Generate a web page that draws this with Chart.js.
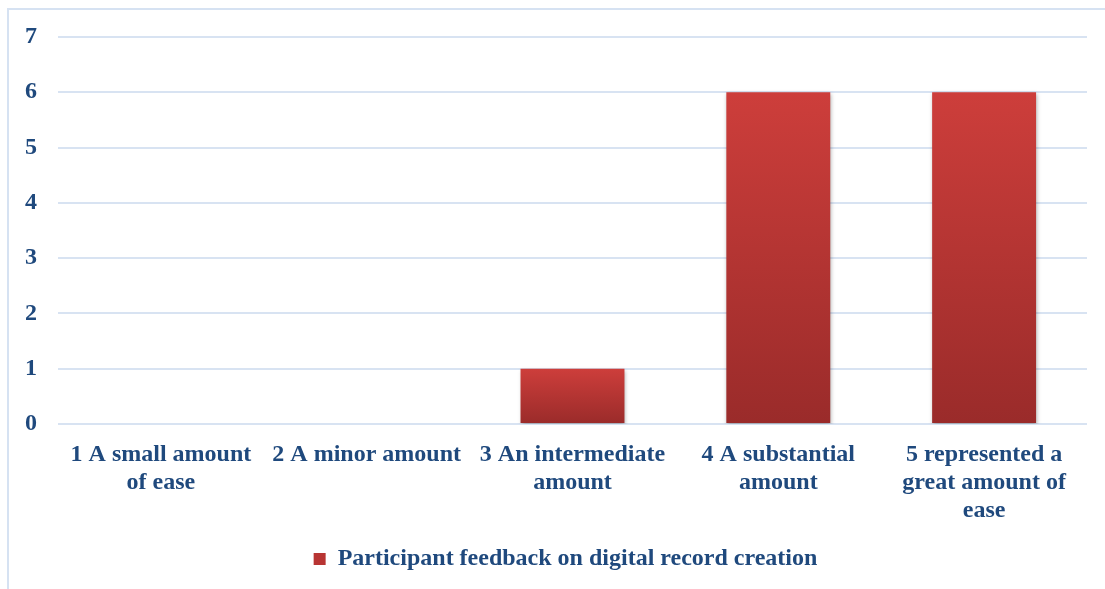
<!DOCTYPE html>
<html>
<head>
<meta charset="utf-8">
<script src="https://cdn.jsdelivr.net/npm/chart.js@4/dist/chart.umd.min.js"></script>
<style>
  body { margin: 0; background: #fff; }
  #wrap { position: relative; width: 1105px; height: 589px; overflow: hidden; }
  #frame { position: absolute; left: 7px; top: 8px; width: 1200px; height: 700px;
           border: 2px solid #D6E2F2; pointer-events: none; }
</style>
</head>
<body>
<div id="wrap">
  <canvas id="chart" width="1105" height="589"></canvas>
  <div id="frame"></div>
</div>
<script>
// Chart data
const categories = [
    ['1 A small amount', 'of ease'],
    ['2 A minor amount'],
    ['3 An intermediate', 'amount'],
    ['4 A substantial', 'amount'],
    ['5 represented a', 'great amount of', 'ease']
];
const seriesLabel = 'Participant feedback on digital record creation';
const feedbackCounts = [0, 0, 1, 6, 6];
const yTicks = [0, 1, 2, 3, 4, 5, 6, 7];

const textColor = '#1F497D';
const fontFamily = '"Liberation Serif", "Times New Roman", serif';

// Per-bar vertical gradient (lighter at the top, darker at the base)
function barGradient(context) {
    const chart = context.chart;
    if (!chart.chartArea || context.type !== 'data') return '#B83533';
    const yScale = chart.scales.y;
    const top = yScale.getPixelForValue(context.raw);
    const base = yScale.getPixelForValue(0);
    if (base - top < 1) return '#B83533';
    const g = chart.ctx.createLinearGradient(0, top, 0, base);
    g.addColorStop(0, '#CD3E3B');
    g.addColorStop(1, '#9A2B2A');
    return g;
}

// Soft shadow behind the bars
const barShadow = {
    id: 'barShadow',
    beforeDatasetsDraw(chart) {
        const ctx = chart.ctx;
        ctx.save();
        ctx.shadowColor = 'rgba(0, 0, 0, 0.3)';
        ctx.shadowBlur = 4;
        ctx.shadowOffsetX = 1;
        ctx.shadowOffsetY = 2;
    },
    afterDatasetsDraw(chart) {
        chart.ctx.restore();
    }
};

// Center the legend under the plot area rather than the whole canvas
const legendShift = {
    id: 'legendShift',
    afterLayout(chart) {
        const legend = chart.legend;
        if (!legend) return;
        const right = legend.right;
        legend.left = chart.chartArea.left - 14;
        legend.width = right - legend.left;
    }
};

const ctx = document.getElementById('chart').getContext('2d');
new Chart(ctx, {
    type: 'bar',
    data: {
        labels: categories,
        datasets: [{
            label: seriesLabel,
            data: feedbackCounts,
            backgroundColor: barGradient,
            borderWidth: 0,
            categoryPercentage: 1.0,
            barPercentage: 0.505
        }]
    },
    options: {
        responsive: false,
        animation: false,
        layout: {
            padding: { left: 0, right: 18, top: 37, bottom: 8 }
        },
        scales: {
            x: {
                afterFit: function(scale) { scale.height = 117; },
                grid: { display: false, drawTicks: false },
                border: { display: false },
                ticks: {
                    color: textColor,
                    padding: 17,
                    maxRotation: 0,
                    autoSkip: false,
                    font: { family: fontFamily, size: 24, weight: 'bold', lineHeight: 1.167 }
                }
            },
            y: {
                min: 0,
                max: 7,
                afterFit: function(scale) { scale.width = 58; },
                afterBuildTicks: function(scale) {
                    scale.ticks = yTicks.map(v => ({ value: v }));
                },
                grid: { color: '#D8E3F2', lineWidth: 2, drawTicks: false },
                border: { display: false },
                ticks: {
                    color: textColor,
                    padding: 21,
                    font: { family: fontFamily, size: 24, weight: 'bold' }
                }
            }
        },
        plugins: {
            legend: {
                position: 'bottom',
                labels: {
                    color: textColor,
                    boxWidth: 12,
                    boxHeight: 12,
                    padding: 6,
                    font: { family: fontFamily, size: 24, weight: 'bold' },
                    generateLabels: function(chart) {
                        return [{
                            text: seriesLabel,
                            fillStyle: '#B83533',
                            strokeStyle: '#B83533',
                            lineWidth: 0,
                            fontColor: textColor,
                            datasetIndex: 0
                        }];
                    }
                }
            },
            tooltip: { enabled: false }
        }
    },
    plugins: [barShadow, legendShift]
});
</script>
</body>
</html>
